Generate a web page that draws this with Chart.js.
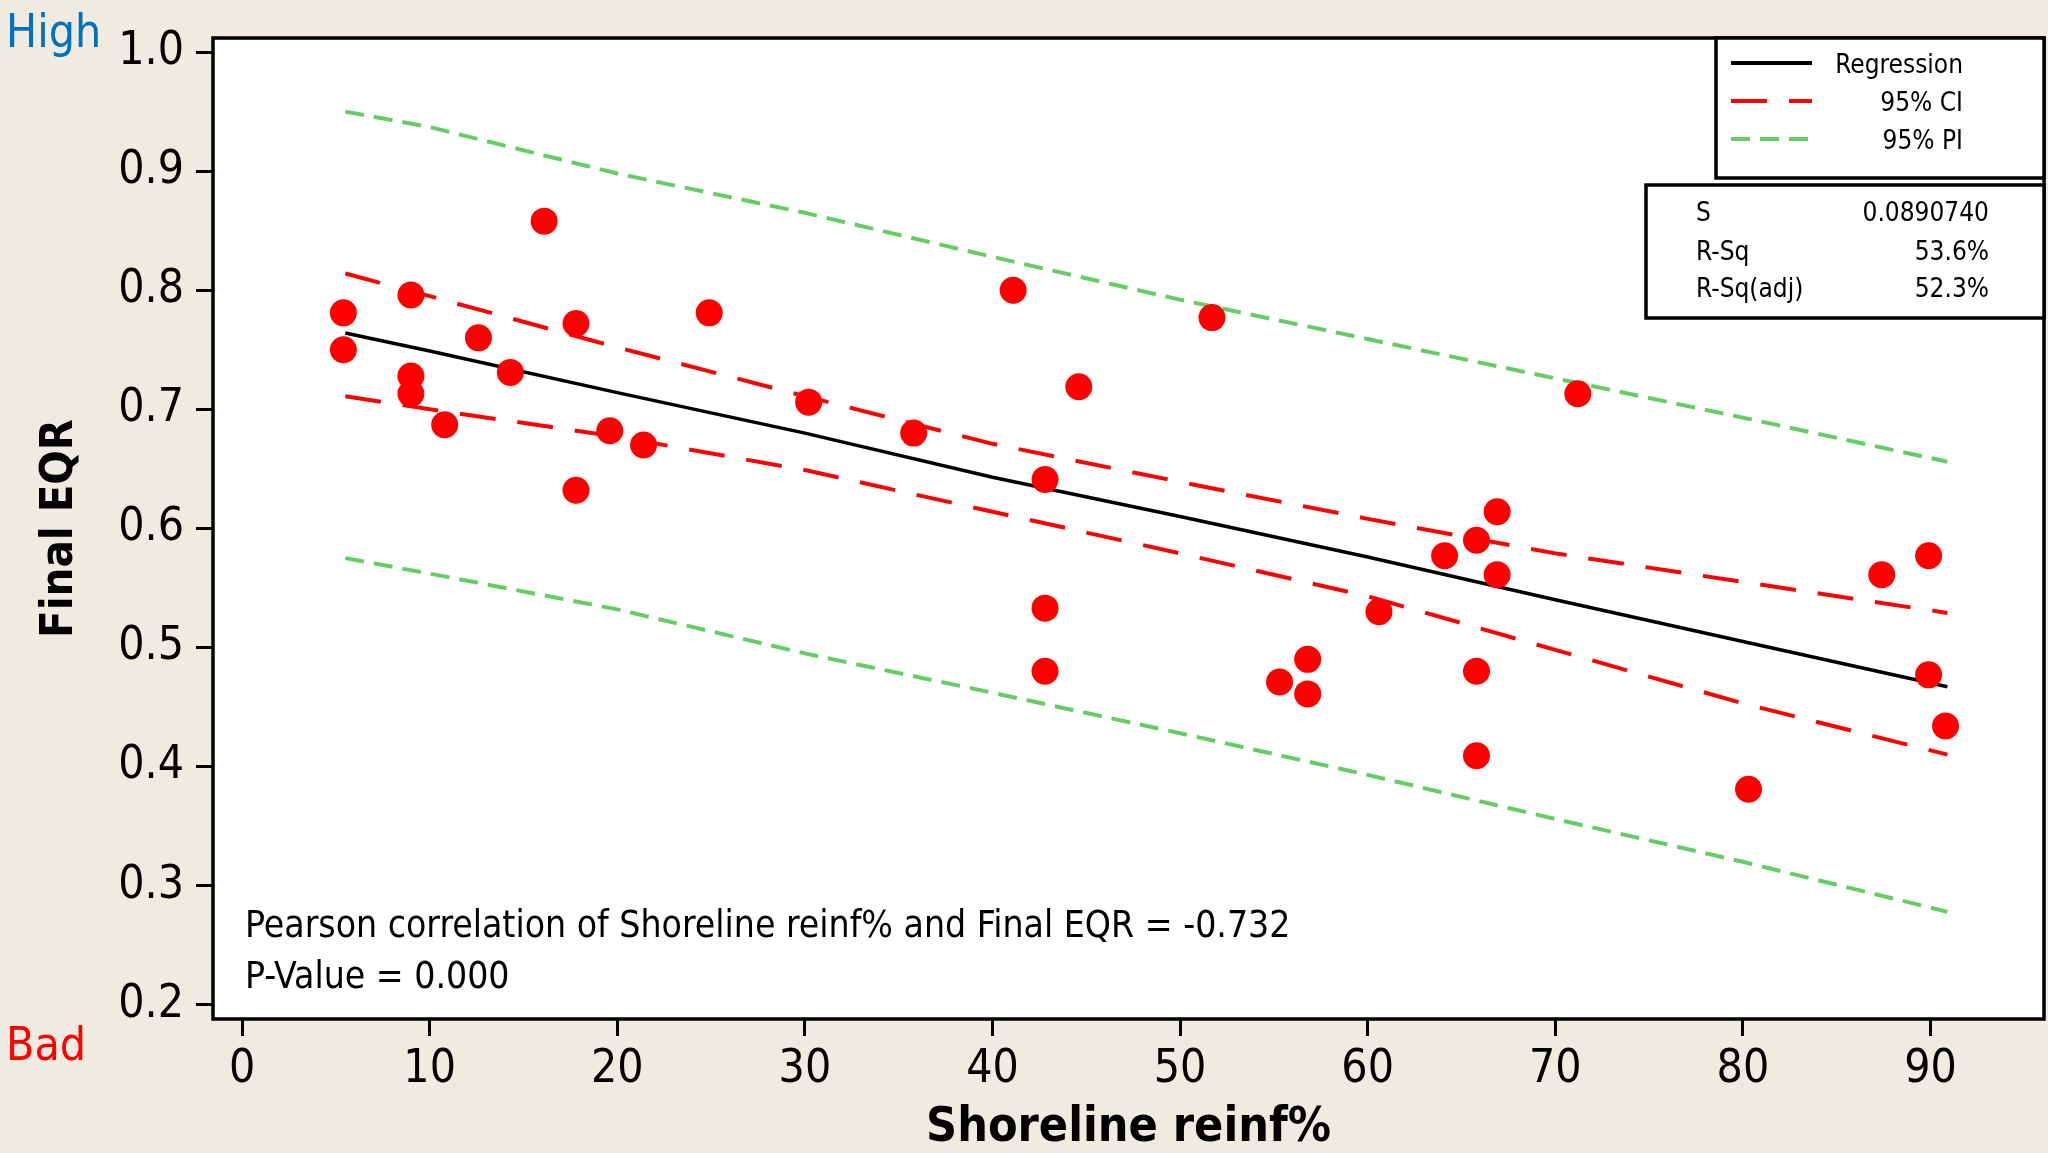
<!DOCTYPE html>
<html>
<head>
<meta charset="utf-8">
<title>Final EQR vs Shoreline reinf%</title>
<script src="https://cdn.jsdelivr.net/npm/chart.js@4.4.1/dist/chart.umd.min.js"></script>
<style>
  html, body { margin: 0; padding: 0; background: #efebe1; }
  #wrap { width: 2048px; height: 1153px; }
</style>
</head>
<body>
<div id="wrap"><canvas id="eqrChart" width="2048" height="1153"></canvas></div>
<script>
const FONT = "'DejaVu Sans Condensed', 'DejaVu Sans', sans-serif";

// axis ticks
const xTicks = [0, 10, 20, 30, 40, 50, 60, 70, 80, 90];
const yTicks = [0.2, 0.3, 0.4, 0.5, 0.6, 0.7, 0.8, 0.9, 1.0];

// observations (Shoreline reinf% vs Final EQR)
const reinf = [5.4, 5.4, 9.0, 9.0, 9.0, 10.8, 12.6, 14.3, 16.1, 17.8,
               17.8, 19.6, 21.4, 24.9, 30.2, 35.8, 41.1, 42.8, 42.8, 42.8,
               44.6, 51.7, 55.3, 56.8, 56.8, 60.6, 64.1, 65.8, 65.8, 65.8,
               66.9, 66.9, 71.2, 80.3, 87.4, 89.9, 89.9, 90.8];
const eqr = [0.781, 0.750, 0.796, 0.728, 0.713, 0.687, 0.760, 0.731, 0.858, 0.772,
             0.632, 0.682, 0.670, 0.781, 0.706, 0.680, 0.800, 0.641, 0.533, 0.480,
             0.719, 0.777, 0.471, 0.490, 0.461, 0.530, 0.577, 0.590, 0.480, 0.409,
             0.614, 0.561, 0.713, 0.381, 0.561, 0.577, 0.477, 0.434];

// fitted line and bands, read at these x positions
const fitX    = [5.5, 10, 20, 30, 40, 50, 60, 70, 80, 90.9];
const fitY    = [0.764, 0.749, 0.714, 0.680, 0.643, 0.610, 0.576, 0.540, 0.505, 0.467];
const ciUpper = [0.814, 0.795, 0.752, 0.711, 0.671, 0.639, 0.608, 0.579, 0.555, 0.529];
const ciLower = [0.711, 0.700, 0.677, 0.649, 0.614, 0.579, 0.543, 0.498, 0.453, 0.410];
const piUpper = [0.950, 0.937, 0.898, 0.865, 0.828, 0.792, 0.759, 0.726, 0.693, 0.656];
const piLower = [0.575, 0.562, 0.532, 0.495, 0.462, 0.428, 0.393, 0.356, 0.320, 0.278];

// summary box
const statNames  = ['S', 'R-Sq', 'R-Sq(adj)'];
const statValues = ['0.0890740', '53.6%', '52.3%'];
const noteLines  = ['Pearson correlation of Shoreline reinf% and Final EQR = -0.732', 'P-Value = 0.000'];

const RED_DASH = [36, 22];
const GREEN_DASH = [19, 10];

const pairs = (xs, ys) => xs.map((x, i) => ({ x: x, y: ys[i] }));

function bandSet(label, ys, color, dash, inLegend) {
    return {
        type: 'line', label: label, data: pairs(fitX, ys),
        borderColor: color, borderWidth: 4, borderDash: dash,
        pointRadius: 0, fill: false, tension: 0, inLegend: inLegend
    };
}

// background, frame, legend, stats and notes
const notes = {
    id: 'notes',
    beforeDraw(chart) {
        const { ctx, chartArea: a } = chart;
        ctx.save();
        ctx.fillStyle = '#efebe1';
        ctx.fillRect(0, 0, chart.width, chart.height);
        ctx.fillStyle = '#ffffff';
        ctx.fillRect(a.left, a.top, a.right - a.left, a.bottom - a.top);
        ctx.restore();
    },
    afterDraw(chart) {
        const { ctx, chartArea: a } = chart;
        ctx.save();
        ctx.strokeStyle = '#000';
        ctx.lineWidth = 3.5;
        ctx.strokeRect(a.left, a.top, a.right - a.left, a.bottom - a.top);

        // High / Bad markers
        ctx.textAlign = 'left';
        ctx.textBaseline = 'alphabetic';
        ctx.font = `46px ${FONT}`;
        ctx.fillStyle = '#0070c0';
        ctx.fillText('High', 6, 47);
        ctx.fillStyle = '#ff0000';
        ctx.fillText('Bad', 6, 1060);

        // correlation note
        ctx.fillStyle = '#000';
        ctx.font = `37px ${FONT}`;
        ctx.fillText(noteLines[0], 245, 937);
        ctx.fillText(noteLines[1], 245, 988);

        // legend box
        ctx.fillStyle = '#fff';
        ctx.fillRect(1716, 38, a.right - 1716, 140);
        ctx.strokeRect(1716, 38, a.right - 1716, 140);
        const rowsY = [63, 101, 139];
        const legendSets = chart.data.datasets.filter(d => d.inLegend);
        ctx.font = `26px ${FONT}`;
        ctx.textAlign = 'right';
        legendSets.forEach((d, i) => {
            ctx.beginPath();
            ctx.setLineDash(d.borderDash || []);
            ctx.strokeStyle = d.borderColor;
            ctx.lineWidth = 4;
            ctx.moveTo(1731, rowsY[i]);
            ctx.lineTo(1812, rowsY[i]);
            ctx.stroke();
            ctx.setLineDash([]);
            ctx.fillStyle = '#000';
            ctx.fillText(d.label, 1963, rowsY[i] + 10);
        });

        // stats box
        ctx.strokeStyle = '#000';
        ctx.lineWidth = 3.5;
        ctx.fillStyle = '#fff';
        ctx.fillRect(1646, 185, a.right - 1646, 133);
        ctx.strokeRect(1646, 185, a.right - 1646, 133);
        const statY = [221, 260, 297];
        ctx.fillStyle = '#000';
        statNames.forEach((n, i) => {
            ctx.textAlign = 'left';
            ctx.fillText(n, 1696, statY[i]);
            ctx.textAlign = 'right';
            ctx.fillText(statValues[i], 1989, statY[i]);
        });
        ctx.restore();
    }
};

new Chart(document.getElementById('eqrChart'), {
    type: 'scatter',
    data: {
        datasets: [
            {
                label: 'Final EQR', data: pairs(reinf, eqr),
                backgroundColor: '#ff0000', borderColor: '#ff0000', borderWidth: 0,
                pointRadius: 13.5, pointHoverRadius: 13.5, showLine: false
            },
            {
                type: 'line', label: 'Regression', data: pairs(fitX, fitY),
                borderColor: '#000000', borderWidth: 3.5, pointRadius: 0,
                fill: false, tension: 0, inLegend: true
            },
            bandSet('95% CI', ciUpper, '#ff0000', RED_DASH, true),
            bandSet('95% CI lower', ciLower, '#ff0000', RED_DASH, false),
            bandSet('95% PI', piUpper, '#66cc66', GREEN_DASH, true),
            bandSet('95% PI lower', piLower, '#66cc66', GREEN_DASH, false)
        ]
    },
    options: {
        responsive: false,
        animation: false,
        devicePixelRatio: 1,
        // point radius would otherwise add auto padding and shrink the plot
        layout: { autoPadding: false, padding: { top: 38, right: 4, left: 0, bottom: 0 } },
        plugins: { legend: { display: false }, tooltip: { enabled: false } },
        scales: {
            x: {
                type: 'linear', position: 'bottom', min: -1.55, max: 96.05,
                afterBuildTicks: s => { s.ticks = xTicks.map(v => ({ value: v })); },
                afterFit: s => {
                    s.height = 134;
                    s.paddingLeft = 0;
                    s.paddingRight = 0;
                },
                ticks: {
                    color: '#000', font: { family: FONT, size: 46 }, padding: 6,
                    maxRotation: 0, autoSkip: false, callback: v => String(v)
                },
                grid: { drawOnChartArea: false, drawTicks: true, tickLength: 17, lineWidth: 3, color: '#000' },
                border: { display: false },
                title: {
                    display: true, text: 'Shoreline reinf%', color: '#000',
                    font: { family: FONT, size: 48, weight: 'bold', lineHeight: 1.0 },
                    padding: { top: 0, bottom: 0 }
                }
            },
            y: {
                type: 'linear', min: 0.188, max: 1.0118,
                afterBuildTicks: s => { s.ticks = yTicks.map(v => ({ value: v })); },
                afterFit: s => {
                    s.width = 213;
                    s.paddingTop = 0;
                    s.paddingBottom = 0;
                },
                ticks: {
                    color: '#000', font: { family: FONT, size: 46 }, padding: 12,
                    callback: v => v.toFixed(1)
                },
                grid: { drawOnChartArea: false, drawTicks: true, tickLength: 17, lineWidth: 3, color: '#000' },
                border: { display: false },
                title: {
                    display: true, text: 'Final EQR', color: '#000',
                    font: { family: FONT, size: 45, weight: 'bold', lineHeight: 1.2 },
                    padding: { top: 33, bottom: 0 }
                }
            }
        }
    },
    plugins: [notes]
});
</script>
</body>
</html>
